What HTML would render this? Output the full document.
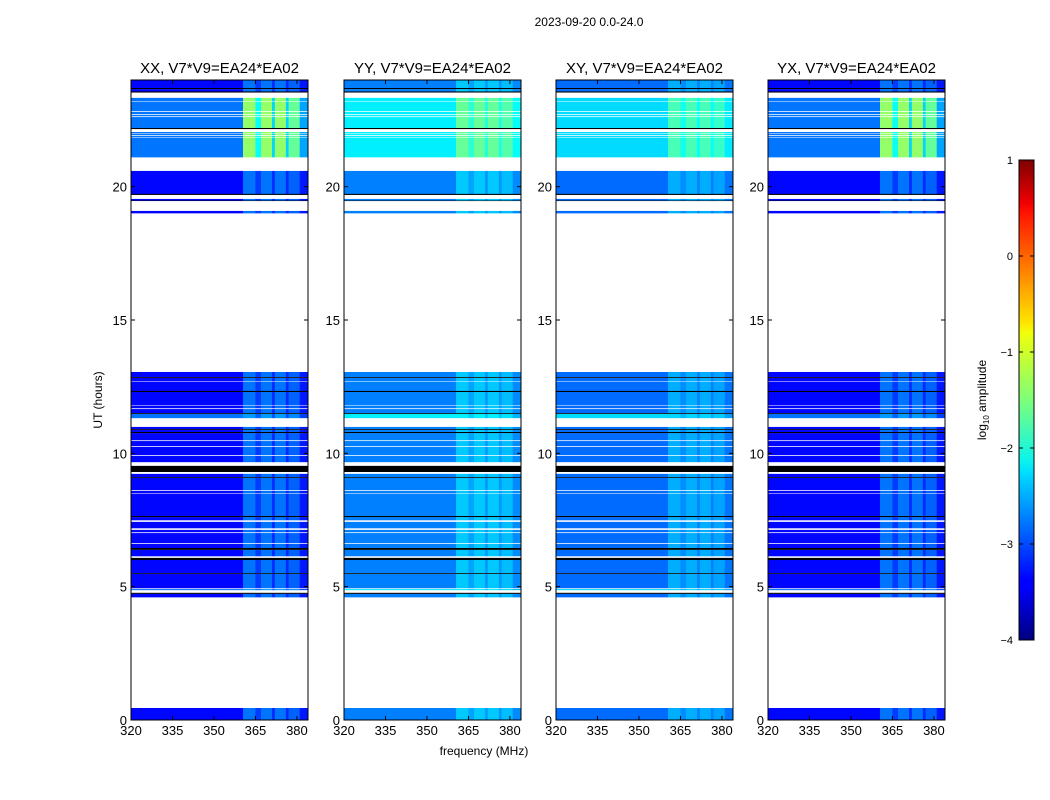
<!DOCTYPE html>
<html><head><meta charset="utf-8"><style>
body{margin:0;background:#fff;}
svg{display:block;font-family:"Liberation Sans","DejaVu Sans",sans-serif;}
</style></head><body>
<svg id="chart" width="1050" height="800" viewBox="0 0 1050 800">
<defs>
<linearGradient id="jet" x1="0" y1="1" x2="0" y2="0">
<stop offset="0" stop-color="#00007f"/><stop offset="0.11" stop-color="#0000ff"/><stop offset="0.125" stop-color="#0000ff"/>
<stop offset="0.34" stop-color="#00d4ff"/><stop offset="0.35" stop-color="#00e0ff"/><stop offset="0.375" stop-color="#0cf4eb"/>
<stop offset="0.5" stop-color="#7dff7a"/><stop offset="0.64" stop-color="#f0ff0a"/><stop offset="0.66" stop-color="#ffe600"/>
<stop offset="0.89" stop-color="#ff1300"/><stop offset="0.91" stop-color="#f00000"/><stop offset="1" stop-color="#7f0000"/>
</linearGradient>
</defs>
<text x="589" y="26" font-size="12" text-anchor="middle">2023-09-20 0.0-24.0</text>
<g id="panels"></g>
<text x="484" y="755" font-size="12" text-anchor="middle">frequency (MHz)</text>
<text x="0" y="0" font-size="12" text-anchor="middle" transform="translate(102,400) rotate(-90)">UT (hours)</text>
<g id="cbar">
<rect x="1019" y="160" width="15" height="480" fill="url(#jet)" stroke="#000" stroke-width="1"/>
<text x="0" y="0" font-size="12" text-anchor="middle" transform="translate(986,400) rotate(-90)">log<tspan font-size="8" dy="3">10</tspan><tspan dy="-3"> amplitude</tspan></text>
</g>
</svg>
<script>
const pols = ["XX","YY","XY","YX"];
const polBase = [-3.35, -2.75, -2.85, -3.35];
const polBandGain = [0.9, 0.6, 0.55, 0.9];
const polHotGain = [2.6, 1.6, 1.6, 2.6];
const chanEdges = [320,360.5,365,367,371,372,376,377,381,384];
const chanGain = [0,0.6,0.3,0.6,0.2,0.6,0.2,0.5,0.1];
const segStart = [23.7,23.57,23.21,22.84,22.73,22.65,22.2,22.01,21.94,21.86,21.11,19.73,19.48,19.01,12.86,12.71,12.34,11.81,11.7,11.51,11.33,10.91,10.8,10.5,10.28,9.94,9.68,9.11,8.63,8.51,7.65,7.5,7.2,7.05,6.64,6.45,6.15,5.51,4.95,4.88,4.61,0];
const segEnd = [24,23.66,23.33,23.18,22.8,22.69,22.61,22.05,21.98,21.9,21.83,20.59,19.54,19.09,13.05,12.83,12.68,12.3,11.78,11.66,11.48,10.99,10.88,10.76,10.46,10.24,9.9,9.23,9.08,8.59,8.48,7.61,7.43,7.13,7.01,6.6,6.38,6.0,5.48,4.91,4.73,0.45];
const segBright = [0,0,1,1,1,1,1,1,1,1,1,0,0,0,0,0,0,0,0,0,2,0,0,0,0,0,0,0,0,0,0,0,0,0,0,0,0,0,0,2,0,0];
const flagStart = [23.66,23.53,22.16,19.69,19.46,12.83,12.3,11.48,10.88,10.76,9.3,9.08,7.61,6.38,6.0,5.48,4.73];
const flagEnd = [23.7,23.57,22.2,19.73,19.48,12.86,12.34,11.51,10.91,10.8,9.53,9.11,7.65,6.45,6.08,5.51,4.77];
const xTicks = [320,335,350,365,380];
const yTicks = [0,5,10,15,20];
const cbTicks = [1,0,-1,-2,-3,-4];

const NS="http://www.w3.org/2000/svg";
const panelLeft=[131,344,556,768], PW=177, TOP=80, BOT=720;
const fmin=320, fmax=384, hmin=0, hmax=24, vmin=-4, vmax=1;
function xs(p,f){return panelLeft[p]+(f-fmin)/(fmax-fmin)*PW;}
function ys(h){return BOT-(h-hmin)/(hmax-hmin)*(BOT-TOP);}
function cy(v){return 640-(v-vmin)/(vmax-vmin)*480;}
function jet(v){
  let t=Math.max(0,Math.min(1,(v-vmin)/(vmax-vmin)));
  const r=Math.max(0,Math.min(1,1.5-Math.abs(4*t-3)));
  const g=Math.max(0,Math.min(1,1.5-Math.abs(4*t-2)));
  const b=Math.max(0,Math.min(1,1.5-Math.abs(4*t-1)));
  return `rgb(${Math.round(r*255)},${Math.round(g*255)},${Math.round(b*255)})`;
}
function mk(tag,attrs,parent){const e=document.createElementNS(NS,tag);for(const k in attrs)e.setAttribute(k,attrs[k]);parent.appendChild(e);return e;}
const root=document.getElementById('panels');
for(let p=0;p<4;p++){
  const g=mk('g',{},root);
  
  
  for(let s=0;s<segStart.length;s++){
    const y1=ys(segEnd[s]), y2=ys(segStart[s]);
    for(let c=0;c<chanGain.length;c++){
      let v=polBase[p], band=chanGain[c]*polBandGain[p];
      if(segBright[s]===1){v+=0.55; band*=polHotGain[p];}
      if(segBright[s]===2){v+=(chanGain[c]>0?0.2:0.55);}
      v+=band;
      const r=mk('rect',{x:xs(p,chanEdges[c]).toFixed(2),y:y1.toFixed(2),width:(xs(p,chanEdges[c+1])-xs(p,chanEdges[c])+0.3).toFixed(2),height:(y2-y1+0.3).toFixed(2),fill:jet(v)},g);
      
      
    }
  }
  for(let k=0;k<flagStart.length;k++){
    const r=mk('rect',{x:panelLeft[p],y:ys(flagEnd[k]).toFixed(2),width:PW,height:(ys(flagStart[k])-ys(flagEnd[k])).toFixed(2),fill:'#000'},g);
    
    
  }
  const fr=mk('rect',{x:panelLeft[p],y:TOP,width:PW,height:BOT-TOP,fill:'none',stroke:'#000','stroke-width':1},g);
  
  
  const t=mk('text',{x:panelLeft[p]+PW/2,y:73,'font-size':15,'text-anchor':'middle'},g);
  t.textContent=pols[p]+", V7*V9=EA24*EA02";
  
  
  for(const f of xTicks){
    const x=xs(p,f);
    mk('line',{x1:x,x2:x,y1:BOT,y2:BOT-4,stroke:'#000'},g);
    mk('line',{x1:x,x2:x,y1:TOP,y2:TOP+4,stroke:'#000'},g);
    const l=mk('text',{x:x,y:BOT+15,'font-size':13,'text-anchor':'middle'},g);
    l.textContent=f;
    
    
  }
  for(const h of yTicks){
    const y=ys(h);
    mk('line',{x1:panelLeft[p],x2:panelLeft[p]+4,y1:y,y2:y,stroke:'#000'},g);
    mk('line',{x1:panelLeft[p]+PW,x2:panelLeft[p]+PW-4,y1:y,y2:y,stroke:'#000'},g);
    const l=mk('text',{x:panelLeft[p]-4,y:y+5,'font-size':13,'text-anchor':'end'},g);
    l.textContent=h;
    
    
  }
}
const cb=document.getElementById('cbar');
for(const v of cbTicks){
  const y=cy(v);
  mk('line',{x1:1019,x2:1023,y1:y,y2:y,stroke:'#000'},cb);
  mk('line',{x1:1034,x2:1030,y1:y,y2:y,stroke:'#000'},cb);
  const l=mk('text',{x:1013,y:y+4,'font-size':11,'text-anchor':'end'},cb);
  l.textContent=v<0?'\u2212'+(-v):String(v);
  
  
}
</script>
</body></html>
